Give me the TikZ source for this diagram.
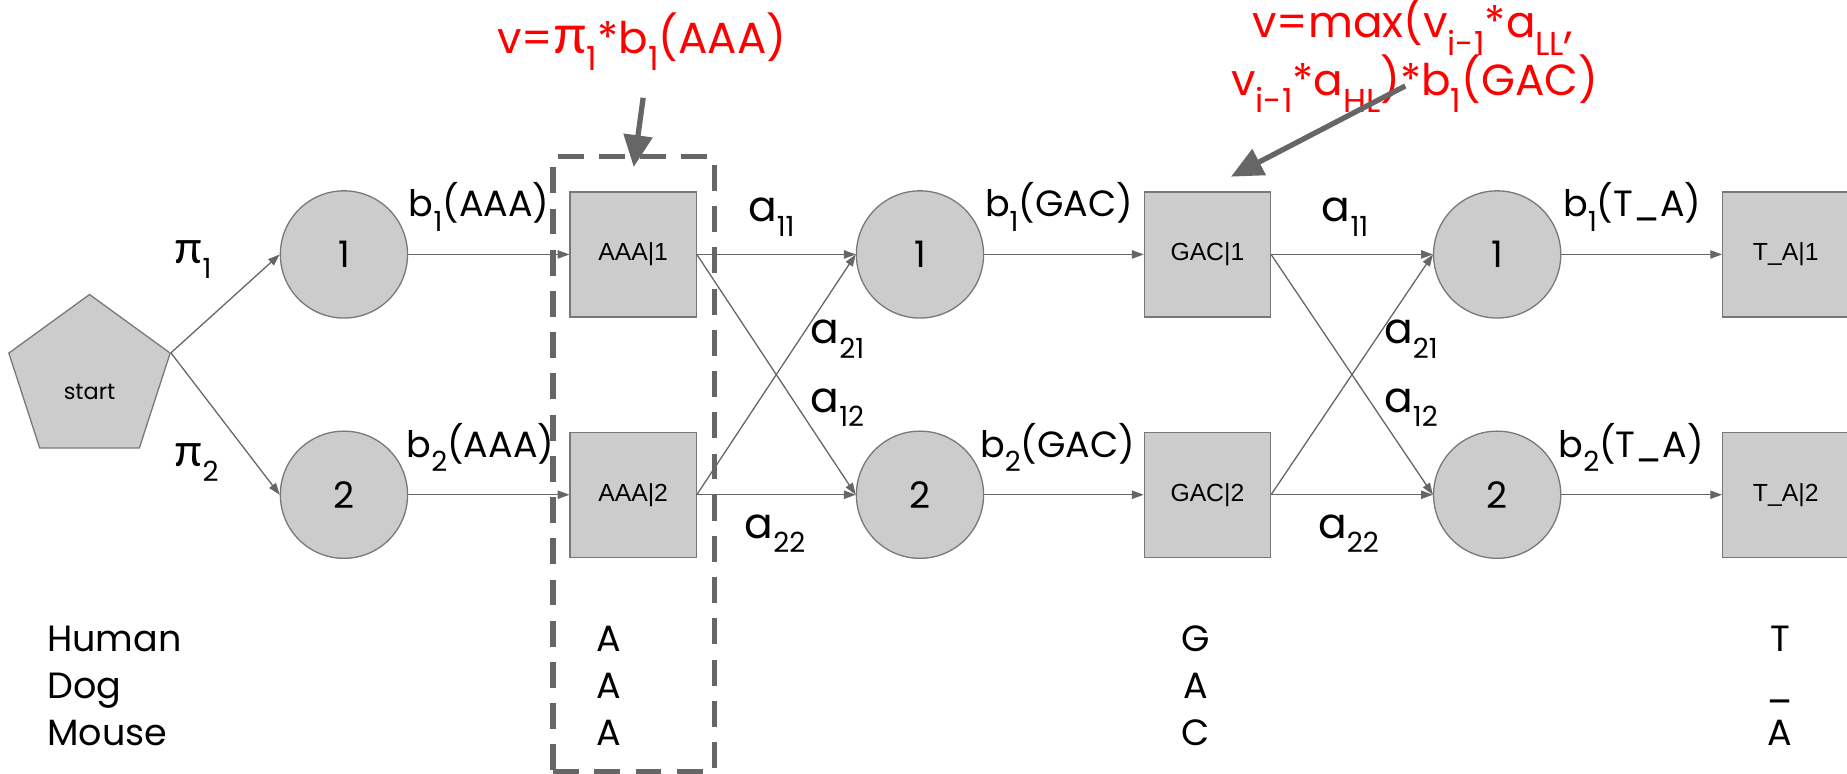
\documentclass[tikz,border=0pt]{standalone}
\usepackage{fontspec}
\setmainfont{Poppins}
\newfontfamily\boxfont{Liberation Sans}
\newfontfamily\greekfont{Lato}
\usetikzlibrary{shapes.geometric,arrows.meta}
\definecolor{myFill}{RGB}{204,204,204}
\definecolor{myLine}{RGB}{102,102,102}
\definecolor{myBorder}{RGB}{120,120,120}
\definecolor{myRed}{RGB}{255,0,0}
\makeatletter
\newcommand{\low}[1]{\raisebox{-0.4em}{\fontsize{\strip@pt\dimexpr\f@size pt*76/100\relax}{1}\selectfont #1}}
\newcommand{\ppi}{{\greekfont\fontsize{\strip@pt\dimexpr\f@size pt*125/100\relax}{1}\selectfont π}}
\newcommand{\tra}[1]{{\fontsize{\strip@pt\dimexpr\f@size pt*116/100\relax}{1}\selectfont a}\low{#1}}
\makeatother

\begin{document}
\begin{tikzpicture}[x=1pt,y=-1pt,
    font=\fontsize{31}{34}\selectfont,
    state/.style={draw=myBorder, fill=myFill, circle, minimum size=108pt, line width=1.1pt},
    emit/.style={draw=myBorder, fill=myFill, minimum width=107pt, minimum height=106pt, line width=1.1pt, font=\boxfont\fontsize{21}{24}\selectfont},
    link/.style={-{Triangle[length=10pt,width=7pt]}, draw=myLine, line width=1.1pt},
    lbl/.style={inner sep=0pt, anchor=base west},
    note/.style={inner sep=0pt, anchor=base west, text=myRed, font=\fontsize{37}{40}\selectfont},
    pointer/.style={-{Triangle[length=27pt,width=24pt]}, draw=myLine, fill=myLine, line width=4.5pt},
    frame/.style={draw=myLine, line width=4.5pt, dash pattern=on 22pt off 13pt, minimum width=137pt, minimum height=522pt, inner sep=0pt}]
            \useasboundingbox (0,0) rectangle (1568,657);
            % states and emissions
            \node[regular polygon, regular polygon sides=5, minimum size=144pt, draw=myBorder, fill=myFill, line width=1.1pt, text height=34pt, text depth=0pt, font=\fontsize{19}{20}\selectfont] (start) at (76,322) {start};
            \node[state] (s11) at (292,216) {1};
            \node[state] (s12) at (292,420) {2};
            \node[state] (s21) at (781,216) {1};
            \node[state] (s22) at (781,420) {2};
            \node[state] (s31) at (1271,216) {1};
            \node[state] (s32) at (1271,420) {2};
            \node[emit] (e11) at (537.5,216) {AAA|1};
            \node[emit] (e12) at (537.5,420) {AAA|2};
            \node[emit] (e21) at (1025,216) {GAC|1};
            \node[emit] (e22) at (1025,420) {GAC|2};
            \node[emit] (e31) at (1516,216) {T\_A|1};
            \node[emit] (e32) at (1516,420) {T\_A|2};
            \node[frame] (col1) at (538,394) {};
            % transitions
            \draw[link] (start.corner 5) -- (s11.west);
            \draw[link] (start.corner 5) -- (s12.west);
            \foreach \c in {1,2,3} {
                \draw[link] (s\c1) -- (e\c1);
                \draw[link] (s\c2) -- (e\c2);
            }
            \foreach \c/\n in {1/2,2/3} {
                \draw[link] (e\c1.east) -- (s\n1.west);
                \draw[link] (e\c1.east) -- (s\n2.west);
                \draw[link] (e\c2.east) -- (s\n1.west);
                \draw[link] (e\c2.east) -- (s\n2.west);
            }
            % labels
            \node[lbl] (pi1) at (148,224) {\ppi\low{1}};
            \node[lbl] (pi2) at (148,396) {\ppi\low{2}};
            \node[lbl] (b11) at (347,184) {b\low{1}(AAA)};
            \node[lbl] (b12) at (345,388) {b\low{2}(AAA)};
            \node[lbl] (b21) at (836,184) {b\low{1}(GAC)};
            \node[lbl] (b22) at (832,388) {b\low{2}(GAC)};
            \node[lbl] (b31) at (1327,184) {b\low{1}(T\_A)};
            \node[lbl] (b32) at (1323,388) {b\low{2}(T\_A)};
            \foreach \c/\x in {2/635,3/1122} {
                \node[lbl] (a11\c) at (\x,188) {\tra{11}};
                \node[lbl] (a21\c) at (\x+53,292) {\tra{21}};
                \node[lbl] (a12\c) at (\x+53,350) {\tra{12}};
                \node[lbl] (a22\c) at (\x-3,457) {\tra{22}};
            }
            % species and columns
            \node[lbl] (human) at (40,553) {Human};
            \node[lbl] (dog) at (40,593) {Dog};
            \node[lbl] (mouse) at (40,633) {Mouse};
            \node[lbl, anchor=base] (h1) at (517,553) {A};
            \node[lbl, anchor=base] (d1) at (517,593) {A};
            \node[lbl, anchor=base] (m1) at (517,633) {A};
            \node[lbl, anchor=base] (h2) at (1015,553) {G};
            \node[lbl, anchor=base] (d2) at (1015,593) {A};
            \node[lbl, anchor=base] (m2) at (1015,633) {C};
            \node[lbl, anchor=base] (h3) at (1511,553) {T};
            \node[lbl, anchor=base] (d3) at (1511,593) {\_};
            \node[lbl, anchor=base] (m3) at (1511,633) {A};
            % viterbi notes
            \node[note] (n1) at (422,45) {v=\ppi\low{1}*b\low{1}(AAA)};
            \node[note] (n2a) at (1063,32) {v=max(v\low{i-1}*a\low{LL},};
            \node[note] (n2b) at (1045,81) {v\low{i-1}*a\low{HL})*b\low{1}(GAC)};
            \coordinate (p1) at (546,83);
            \coordinate (p2) at (1193,73);
            \coordinate (p2end) at (1045,150);
            \draw[pointer] (p1) -- ([yshift=-11pt]col1.north);
            \draw[pointer] (p2) -- (p2end);
        \end{tikzpicture}
\end{document}
